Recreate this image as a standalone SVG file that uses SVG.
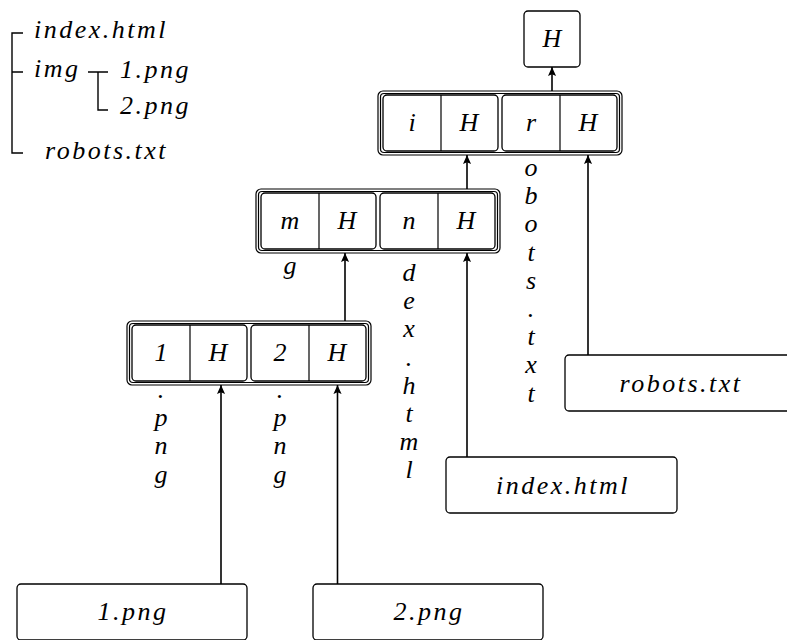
<svg xmlns="http://www.w3.org/2000/svg" width="787" height="640" viewBox="0 0 787 640">
<style>
  text { font-style: italic; font-size: 26px; fill: #000; }
  .w { letter-spacing: 2.5px; }
  .c { text-anchor: middle; }
  .box { fill: #fff; stroke: #000; stroke-width: 1.3; }
  .dbl { fill: none; stroke: #000; stroke-width: 1.2; }
  .div { stroke: #000; stroke-width: 1.2; }
  .edge { fill: none; stroke: #000; stroke-width: 1.6; marker-end: url(#arr); }
  .tree { fill: none; stroke: #000; stroke-width: 1.4; }
</style>
<defs>
  <marker id="arr" viewBox="0 0 10 10" refX="10" refY="5" markerWidth="10" markerHeight="9" markerUnits="userSpaceOnUse" orient="auto">
    <path d="M0,0.5 L10,5 L0,9.5 L2,5 z" fill="#000"/>
  </marker>
</defs>
<rect width="787" height="640" fill="#fff"/>
<g font-family="'Liberation Serif', 'Times New Roman', 'DejaVu Serif', serif">

<g id="filetree">
  <path class="tree" d="M23,33 H12 V153 H23 M12,72 H23"/>
  <path class="tree" d="M88,72 H108 M98,72 V110 H108"/>
  <text x="34" y="38" class="w">index.html</text>
  <text x="34" y="77" class="w">img</text>
  <text x="120" y="78" class="w">1.png</text>
  <text x="120" y="114" class="w">2.png</text>
  <text x="45" y="159" class="w">robots.txt</text>
</g>

<g id="connectors">
  <path class="edge" d="M552,91 V67"/>
  <path class="edge" d="M467,189 V155"/>
  <path class="edge" d="M345,321 V253"/>
  <path class="edge" d="M221,584 V385"/>
  <path class="edge" d="M337.5,584 V385"/>
  <path class="edge" d="M467,457 V253"/>
  <path class="edge" d="M588,355 V155"/>
</g>

<g id="root-H">
  <rect class="box" x="524" y="11" width="56" height="56" rx="4"/>
  <text x="552" y="47" class="c">H</text>
</g>

<g id="node-top">
  <rect class="dbl" x="378" y="91" width="244" height="64" rx="5"/>
  <rect class="dbl" x="380.5" y="93.5" width="239" height="59" rx="3.5"/>
  <rect class="box" x="383" y="95" width="115" height="56" rx="4"/>
  <rect class="box" x="502" y="95" width="115" height="56" rx="4"/>
  <line class="div" x1="441" y1="95" x2="441" y2="151"/>
  <line class="div" x1="560" y1="95" x2="560" y2="151"/>
  <text x="412" y="131" class="c">i</text>
  <text x="469" y="131" class="c">H</text>
  <text x="531" y="131" class="c">r</text>
  <text x="588" y="131" class="c">H</text>
</g>

<g id="node-mid">
  <rect class="dbl" x="256" y="189" width="244" height="64" rx="5"/>
  <rect class="dbl" x="258.5" y="191.5" width="239" height="59" rx="3.5"/>
  <rect class="box" x="261" y="193" width="115" height="56" rx="4"/>
  <rect class="box" x="380" y="193" width="115" height="56" rx="4"/>
  <line class="div" x1="319" y1="193" x2="319" y2="249"/>
  <line class="div" x1="438" y1="193" x2="438" y2="249"/>
  <text x="290" y="229" class="c">m</text>
  <text x="347" y="229" class="c">H</text>
  <text x="409" y="229" class="c">n</text>
  <text x="466" y="229" class="c">H</text>
</g>

<g id="node-bottom">
  <rect class="dbl" x="127" y="321" width="244" height="64" rx="5"/>
  <rect class="dbl" x="129.5" y="323.5" width="239" height="59" rx="3.5"/>
  <rect class="box" x="132" y="325" width="115" height="56" rx="4"/>
  <rect class="box" x="251" y="325" width="115" height="56" rx="4"/>
  <line class="div" x1="190" y1="325" x2="190" y2="381"/>
  <line class="div" x1="309" y1="325" x2="309" y2="381"/>
  <text x="161" y="361" class="c">1</text>
  <text x="218" y="361" class="c">H</text>
  <text x="280" y="361" class="c">2</text>
  <text x="337" y="361" class="c">H</text>
</g>

<g id="labels">
  <text x="290" y="274" class="c">g</text>
  <text class="c"><tspan x="161" y="398">.</tspan><tspan x="161" y="426">p</tspan><tspan x="161" y="454">n</tspan><tspan x="161" y="483">g</tspan></text>
  <text class="c"><tspan x="280" y="398">.</tspan><tspan x="280" y="426">p</tspan><tspan x="280" y="454">n</tspan><tspan x="280" y="483">g</tspan></text>
  <text class="c"><tspan x="409" y="281">d</tspan><tspan x="409" y="309">e</tspan><tspan x="409" y="337">x</tspan><tspan x="409" y="366">.</tspan><tspan x="409" y="394">h</tspan><tspan x="409" y="422">t</tspan><tspan x="409" y="450">m</tspan><tspan x="409" y="478">l</tspan></text>
  <text class="c"><tspan x="531" y="176">o</tspan><tspan x="531" y="204">b</tspan><tspan x="531" y="232">o</tspan><tspan x="531" y="261">t</tspan><tspan x="531" y="289">s</tspan><tspan x="531" y="317">.</tspan><tspan x="531" y="345">t</tspan><tspan x="531" y="373">x</tspan><tspan x="531" y="402">t</tspan></text>
</g>

<g id="leaf-1png">
  <rect class="box" x="17" y="584" width="230" height="56" rx="4"/>
  <text x="133" y="620" class="c w">1.png</text>
</g>
<g id="leaf-2png">
  <rect class="box" x="313" y="584" width="230" height="56" rx="4"/>
  <text x="429" y="620" class="c w">2.png</text>
</g>
<g id="leaf-index">
  <rect class="box" x="446" y="457" width="231" height="56" rx="4"/>
  <text x="563" y="494" class="c w">index.html</text>
</g>
<g id="leaf-robots">
  <rect class="box" x="565" y="355" width="230" height="56" rx="4"/>
  <text x="681" y="392" class="c w">robots.txt</text>
</g>
</g>
</svg>
